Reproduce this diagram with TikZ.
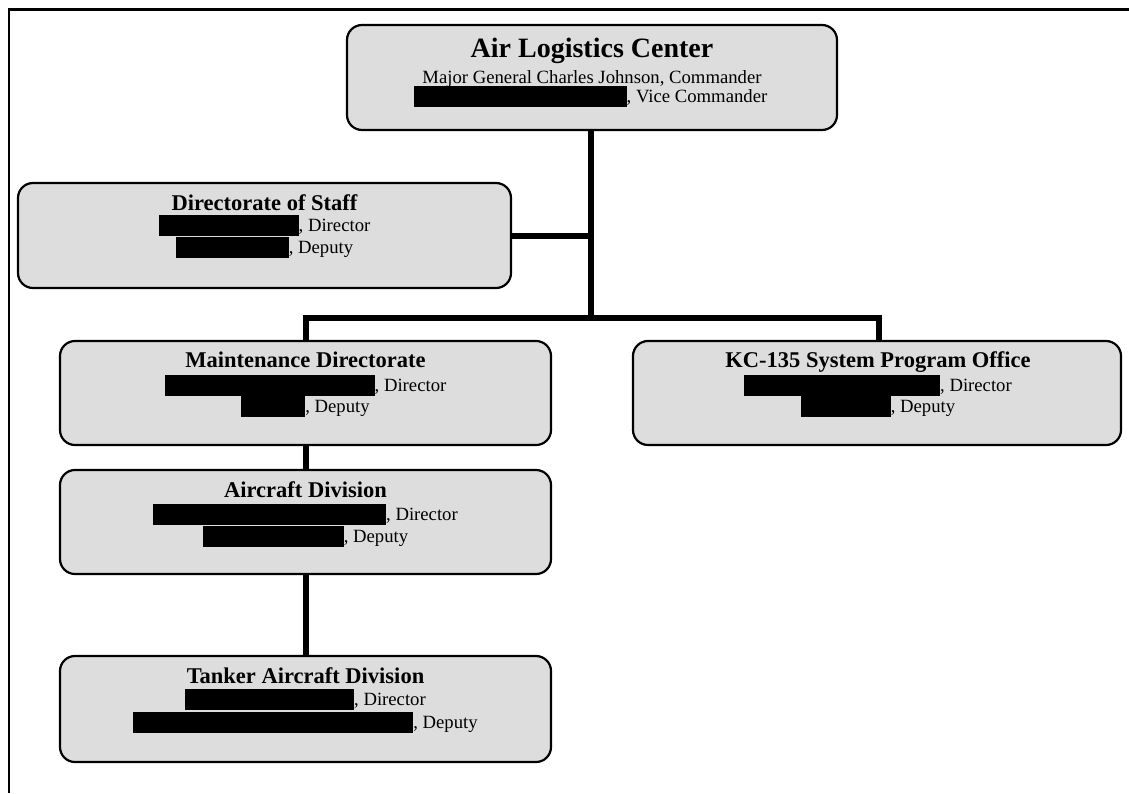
\documentclass[tikz,border=0pt]{standalone}
\usepackage{fontspec}
\setmainfont{Liberation Serif}
\definecolor{boxgray}{HTML}{DDDDDD}
\newcommand{\redact}[1]{\rule[-5pt]{#1pt}{21.5pt}}
\tikzset{
  orgbox/.style={draw=black, line width=2.2pt, fill=boxgray, rounded corners=15pt, rectangle, inner sep=0pt},
  bigtitle/.style={anchor=base, inner sep=0pt, font=\fontsize{28}{32}\selectfont\bfseries},
  boxtitle/.style={anchor=base, inner sep=0pt, font=\fontsize{22.5}{26}\selectfont\bfseries},
  bodyline/.style={anchor=base, inner sep=0pt, font=\fontsize{18.7}{22}\selectfont},
  link/.style={line width=6pt, draw=black},
  frameline/.style={line width=2.4pt, draw=black}
}
\begin{document}
\begin{tikzpicture}[x=1pt,y=-1pt]
\useasboundingbox (0,0) rectangle (1129,793);
% frame
\coordinate (fTR) at (1129,9.5);
\coordinate (fTL) at (8.7,9.5);
\coordinate (fBL) at (8.7,793);
\draw[frameline] (fTR) -- (fTL) -- (fBL);

% boxes
\node[orgbox, minimum width=490pt, minimum height=105pt] (top) at (592,77.5) {};
\node[orgbox, minimum width=493pt, minimum height=105pt] (staff) at (264.5,235.5) {};
\node[orgbox, minimum width=491pt, minimum height=104pt] (maint) at (305.5,393) {};
\node[orgbox, minimum width=488pt, minimum height=104pt] (kc) at (877,393) {};
\node[orgbox, minimum width=491pt, minimum height=104pt] (air) at (305.5,522) {};
\node[orgbox, minimum width=491pt, minimum height=106pt] (tank) at (305.5,709) {};

% connectors
\coordinate (trunkTop) at (591,130);
\coordinate (staffJ) at (591,236);
\coordinate (barMid) at (591,317.5);
\coordinate (barL) at (306,317.5);
\coordinate (barR) at (879,317.5);
\draw[link] (top.south -| trunkTop) -- (barMid);
\draw[link] (staff.east |- staffJ) -- (staffJ);
\draw[link] (maint.north -| barL) -- (barL) -- (barR) -- (kc.north -| barR);
\draw[link] (maint.south -| barL) -- (air.north -| barL);
\draw[link] (air.south -| barL) -- (tank.north -| barL);

% texts
\node[bigtitle] (topT) at (592,57) {Air Logistics Center};
\node[bodyline] (top1) at (592,83) {Major General Charles Johnson, Commander};
\node[bodyline] (top2) at (590.5,102) {\redact{213}, Vice Commander};

\node[boxtitle] (staffT) at (264.5,210) {Directorate of Staff};
\node[bodyline] (staff1) at (264.5,231) {\redact{140}, Director};
\node[bodyline] (staff2) at (264.5,253) {\redact{113}, Deputy};

\node[boxtitle] (maintT) at (305.5,367) {Maintenance Directorate};
\node[bodyline] (maint1) at (305.5,391) {\redact{210}, Director};
\node[bodyline] (maint2) at (305.5,412) {\redact{64}, Deputy};

\node[boxtitle] (kcT) at (878,367) {KC-135 System Program Office};
\node[bodyline] (kc1) at (878,391) {\redact{196}, Director};
\node[bodyline] (kc2) at (878,412) {\redact{90}, Deputy};

\node[boxtitle] (airT) at (305.5,497) {Aircraft Division};
\node[bodyline] (air1) at (305.5,520) {\redact{233}, Director};
\node[bodyline] (air2) at (305.5,542) {\redact{141}, Deputy};

\node[boxtitle] (tankT) at (305.5,683) {Tanker Aircraft Division};
\node[bodyline] (tank1) at (305.5,705) {\redact{169}, Director};
\node[bodyline] (tank2) at (305.5,728) {\redact{280}, Deputy};
\end{tikzpicture}
\end{document}
